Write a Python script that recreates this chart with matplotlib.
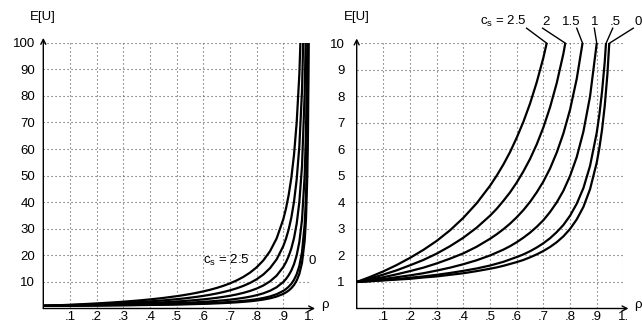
import matplotlib
matplotlib.use("Agg")
import matplotlib.pyplot as plt

plt.rcParams['font.family'] = ['Liberation Sans', 'DejaVu Sans']
plt.rcParams['mathtext.default'] = 'regular'

# ---- data ----
rho = [0.0, 0.05, 0.1, 0.15, 0.2, 0.25, 0.3, 0.35, 0.4, 0.45, 0.5,
       0.525, 0.55, 0.575, 0.6, 0.625, 0.65, 0.675, 0.7, 0.725, 0.75,
       0.775, 0.8, 0.825, 0.85, 0.875, 0.9, 0.91, 0.92, 0.93, 0.94,
       0.95, 0.96, 0.97, 0.98, 0.985, 0.99, 0.9925, 0.995, 0.9975]

eu_cs0 = [1.00, 1.03, 1.06, 1.09, 1.12, 1.17, 1.21, 1.27, 1.33, 1.41, 1.50,
          1.55, 1.61, 1.68, 1.75, 1.83, 1.93, 2.04, 2.17, 2.32, 2.50,
          2.72, 3.00, 3.36, 3.83, 4.50, 5.50, 6.06, 6.75, 7.64, 8.83,
          10.50, 13.00, 17.17, 25.50, 33.83, 50.50, 67.17, 100.50, 200.50]
eu_cs05 = [1.00, 1.03, 1.07, 1.11, 1.16, 1.21, 1.27, 1.34, 1.42, 1.51, 1.62,
           1.69, 1.76, 1.85, 1.94, 2.04, 2.16, 2.30, 2.46, 2.65, 2.88,
           3.15, 3.50, 3.95, 4.54, 5.38, 6.63, 7.32, 8.19, 9.30, 10.79,
           12.88, 16.00, 21.21, 31.63, 42.04, 62.88, 83.71, 125.38, 250.38]
eu_cs1 = [1.00, 1.05, 1.11, 1.18, 1.25, 1.33, 1.43, 1.54, 1.67, 1.82, 2.00,
          2.11, 2.22, 2.35, 2.50, 2.67, 2.86, 3.08, 3.33, 3.64, 4.00,
          4.44, 5.00, 5.71, 6.67, 8.00, 10.00, 11.11, 12.50, 14.29, 16.67,
          20.00, 25.00, 33.33, 50.00, 66.67, 100.00, 133.33, 200.00, 400.00]
eu_cs15 = [1.00, 1.09, 1.18, 1.29, 1.41, 1.54, 1.70, 1.88, 2.08, 2.33, 2.63,
           2.80, 2.99, 3.20, 3.44, 3.71, 4.02, 4.38, 4.79, 5.28, 5.88,
           6.60, 7.50, 8.66, 10.21, 12.38, 15.63, 17.43, 19.69, 22.59, 26.46,
           31.88, 40.00, 53.54, 80.63, 107.71, 161.88, 216.04, 324.38, 649.38]
eu_cs2 = [1.00, 1.13, 1.28, 1.44, 1.63, 1.83, 2.07, 2.35, 2.67, 3.05, 3.50,
          3.76, 4.06, 4.38, 4.75, 5.17, 5.64, 6.19, 6.83, 7.59, 8.50,
          9.61, 11.00, 12.79, 15.17, 18.50, 23.50, 26.28, 29.75, 34.21, 40.17,
          48.50, 61.00, 81.83, 123.50, 165.17, 248.50, 331.83, 498.50, 998.50]
eu_cs25 = [1.00, 1.19, 1.40, 1.64, 1.91, 2.21, 2.55, 2.95, 3.42, 3.97, 4.63,
           5.01, 5.43, 5.90, 6.44, 7.04, 7.73, 8.53, 9.46, 10.56, 11.88,
           13.49, 15.50, 18.09, 21.54, 26.38, 33.63, 37.65, 42.69, 49.16, 57.79,
           69.88, 88.00, 118.21, 178.63, 239.04, 359.88, 480.71, 722.38, 1447.38]

series = [eu_cs0, eu_cs05, eu_cs1, eu_cs15, eu_cs2, eu_cs25]

cs_labels = ["c$_{s}$ = 2.5", "2", "1.5", "1", ".5", "0"]
# where each curve meets E[U] = 10 in the right panel
curve_end_rho = [0.713, 0.783, 0.847, 0.900, 0.935, 0.947]
label_rho = [0.549, 0.710, 0.806, 0.894, 0.968, 1.056]
leader_start_rho = [0.637, 0.697, 0.825, 0.891, 0.960, 1.037]

xtick_vals = [0.1, 0.2, 0.3, 0.4, 0.5, 0.6, 0.7, 0.8, 0.9, 1.0]
xtick_labels = [".1", ".2", ".3", ".4", ".5", ".6", ".7", ".8", ".9", "1."]
ytick_left = [10, 20, 30, 40, 50, 60, 70, 80, 90, 100]
ytick_right = [1, 2, 3, 4, 5, 6, 7, 8, 9, 10]

FS = 9.5
fig = plt.figure(figsize=(6.42, 3.24), dpi=100)
axL = fig.add_axes([0.06745, 0.04784, 0.41542, 0.8204])
axR = fig.add_axes([0.55561, 0.04784, 0.41542, 0.8185])


def style(ax, ymax, yticks, ypad):
    ax.set_xlim(0, 1.0)
    ax.set_ylim(0, ymax)
    ax.set_xticks(xtick_vals)
    ax.set_xticklabels(xtick_labels)
    ax.set_yticks(yticks)
    ax.set_yticklabels([str(v) for v in yticks])
    ax.tick_params(length=0, labelsize=FS)
    ax.tick_params(axis='x', pad=1.5)
    ax.tick_params(axis='y', pad=ypad)
    for s in ax.spines.values():
        s.set_visible(False)
    ax.grid(True, color='#555555', linestyle=(0, (1, 2.6)), linewidth=0.8)
    ax.set_axisbelow(True)
    arrow = dict(arrowstyle='->,head_length=0.35,head_width=0.18', lw=1.0,
                 color='black', shrinkA=0, shrinkB=0)
    ax.annotate('', xy=(0, 1.018), xytext=(0, 0), xycoords='axes fraction',
                textcoords='axes fraction', arrowprops=arrow,
                annotation_clip=False)
    ax.annotate('', xy=(1.019, 0), xytext=(0, 0), xycoords='axes fraction',
                textcoords='axes fraction', arrowprops=arrow,
                annotation_clip=False)
    ax.text(0, 1.098, 'E[U]', transform=ax.transAxes, ha='center',
            va='center', fontsize=FS)
    ax.text(1.055, 0.015, 'ρ', transform=ax.transAxes, ha='center',
            va='center', fontsize=FS)
    for ys in series:
        ax.plot(rho, ys, color='black', lw=1.6, solid_capstyle='butt')


style(axL, 100, ytick_left, 6)
style(axR, 10, ytick_right, 8.5)

# left panel labels
axL.text(0.688, 18, "c$_{s}$ = 2.5", ha='center', va='center', fontsize=FS)
axL.text(1.008, 18, "0", ha='center', va='center', fontsize=FS)

# right panel labels with leader lines
for lab, xe, xl, xs in zip(cs_labels, curve_end_rho, label_rho,
                           leader_start_rho):
    axR.text(xl, 10.82, lab, ha='center', va='center', fontsize=FS,
             clip_on=False)
    axR.plot([xs, xe], [10.57, 10.0], color='black', lw=1.0, clip_on=False)

fig.savefig('out.png', dpi=100)
